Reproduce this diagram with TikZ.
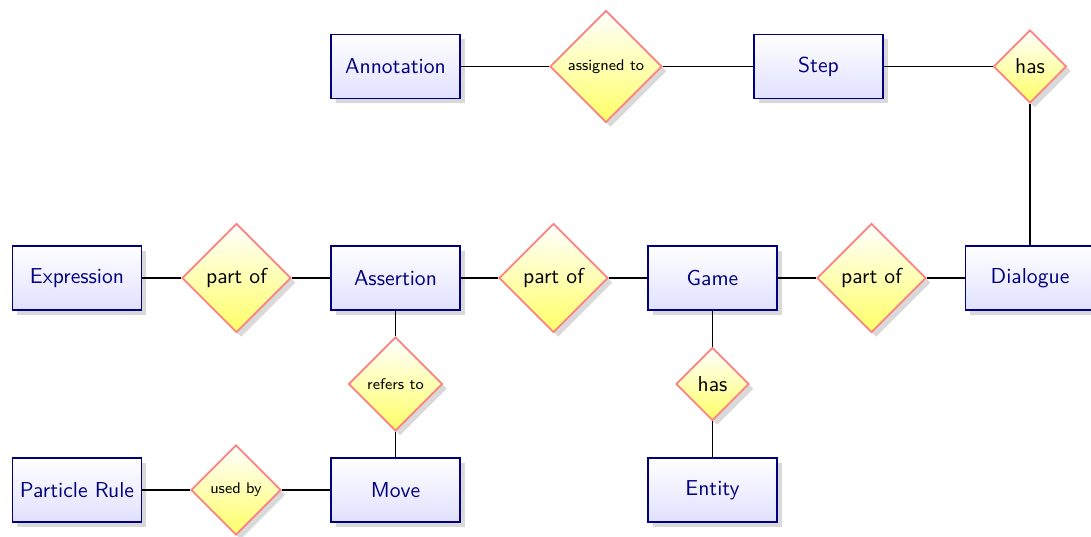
\documentclass[tikz,border=0pt]{standalone}
\usepackage{fontspec}
\usetikzlibrary{shapes.geometric,shadows}
\begin{document}
\begin{tikzpicture}[x=0.5pt,y=-0.5pt,
  shade/.style={drop shadow={shadow xshift=2.3pt, shadow yshift=-2.3pt, opacity=0.3}},
  entity/.style={rectangle, draw=blue!50!black, line width=0.95pt,
    top color=white, bottom color=blue!12, text=blue!50!black,
    minimum width=64.5pt, minimum height=32pt, inner sep=0pt,
    font=\fontsize{10.8}{12}\sffamily, shade},
  rel/.style={diamond, aspect=1, draw=red!50, line width=0.9pt,
    top color=white, bottom color=yellow!60, text=black, inner sep=0pt,
    minimum width=#1, minimum height=#1, shade},
  big/.style={font=\fontsize{10.8}{12}\sffamily},
  small/.style={font=\fontsize{7.7}{9}\sffamily},
  link/.style={line width=0.65pt, black}]
\useasboundingbox (0,0) rectangle (1091,536);

% top row
\node[entity] (annotation) at (395.5,66.5) {Annotation};
\node[rel=56pt, small] (assigned) at (606,66.5) {assigned to};
\node[entity] (step) at (818.5,66.5) {Step};
\node[rel=36.5pt, big] (hastop) at (1030,66.5) {has};

% middle row
\node[entity] (expression) at (77,278) {Expression};
\node[rel=54.5pt, big] (partofA) at (236.5,278) {part of};
\node[entity] (assertion) at (395.5,278) {Assertion};
\node[rel=54.5pt, big] (partofB) at (553.5,278) {part of};
\node[entity] (game) at (712.5,278) {Game};
\node[rel=54.5pt, big] (partofC) at (871.5,278) {part of};
\node[entity] (dialogue) at (1030,278) {Dialogue};

% lower relations
\node[rel=47pt, small] (refers) at (395.5,384) {refers to};
\node[rel=36.5pt, big] (hasent) at (712.5,384) {has};

% bottom row
\node[entity] (particle) at (77,490) {Particle Rule};
\node[rel=45pt, small] (usedby) at (236,490) {used by};
\node[entity] (move) at (395.5,490) {Move};
\node[entity] (entityn) at (712.5,490) {Entity};

% connectors
\draw[link] (annotation) -- (assigned);
\draw[link] (assigned) -- (step);
\draw[link] (step) -- (hastop);
\draw[link] (hastop) -- (dialogue);
\draw[link] (expression) -- (partofA);
\draw[link] (partofA) -- (assertion);
\draw[link] (assertion) -- (partofB);
\draw[link] (partofB) -- (game);
\draw[link] (game) -- (partofC);
\draw[link] (partofC) -- (dialogue);
\draw[link] (assertion) -- (refers);
\draw[link] (refers) -- (move);
\draw[link] (particle) -- (usedby);
\draw[link] (usedby) -- (move);
\draw[link] (game) -- (hasent);
\draw[link] (hasent) -- (entityn);
\end{tikzpicture}
\end{document}
